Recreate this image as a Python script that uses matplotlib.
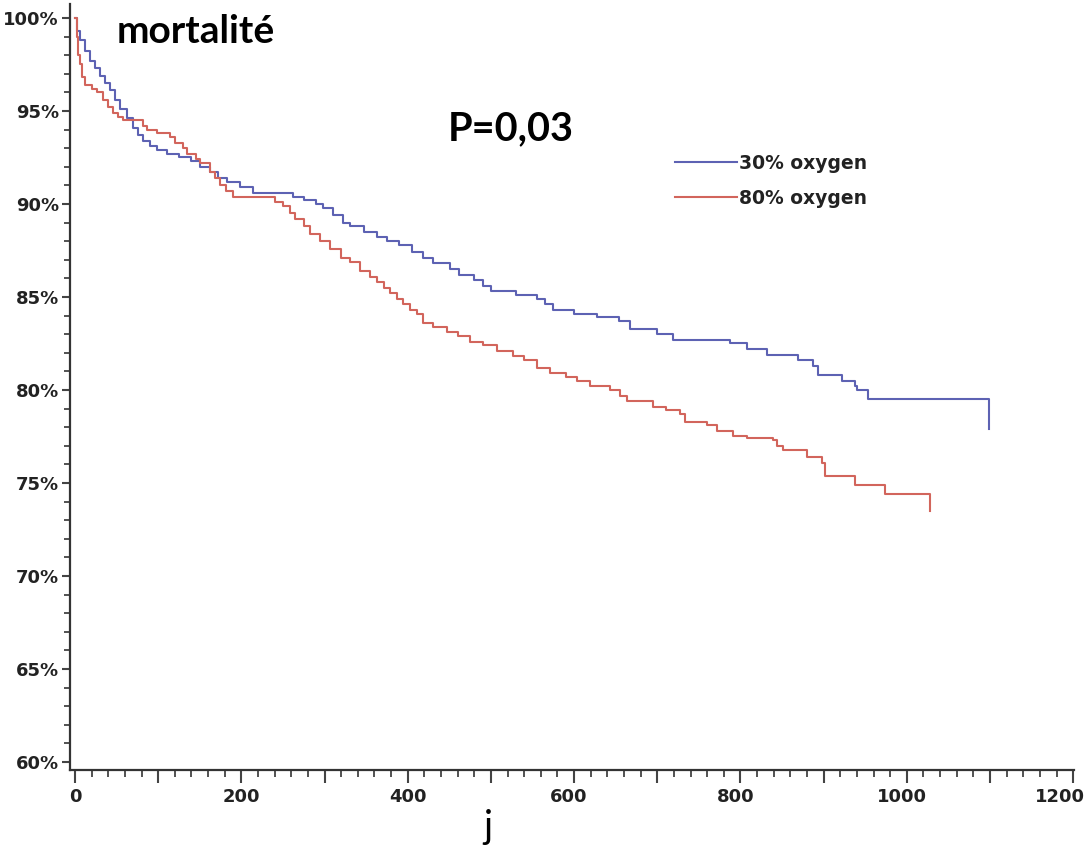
import matplotlib
matplotlib.use("Agg")
import matplotlib.pyplot as plt
from matplotlib.ticker import MultipleLocator, FuncFormatter
from matplotlib.transforms import ScaledTranslation

# ---- data (days, survival %) ----
days_30 = [0, 3, 6, 12, 18, 24, 30, 36, 42, 48, 54, 62, 70, 76, 82, 90, 99, 111, 125,
           140, 150, 162, 172, 183, 198, 214, 262, 275, 290, 298, 310, 322, 331, 348,
           363, 375, 390, 405, 418, 430, 451, 462, 480, 490, 500, 530, 555, 565, 575,
           600, 628, 654, 667, 700, 719, 788, 808, 832, 869, 887, 893, 922, 938, 940,
           953, 1099]
surv_30 = [100, 99.3, 98.8, 98.2, 97.7, 97.3, 96.9, 96.5, 96.1, 95.6, 95.1, 94.6, 94.1,
           93.7, 93.4, 93.1, 92.9, 92.7, 92.5, 92.3, 92.0, 91.7, 91.4, 91.2, 90.9, 90.6,
           90.4, 90.2, 90.0, 89.8, 89.4, 89.0, 88.8, 88.5, 88.2, 88.0, 87.8, 87.4, 87.1,
           86.8, 86.5, 86.2, 85.9, 85.6, 85.3, 85.1, 84.9, 84.6, 84.3, 84.1, 83.9, 83.7,
           83.3, 83.0, 82.7, 82.5, 82.2, 81.9, 81.6, 81.3, 80.8, 80.5, 80.2, 80.0, 79.5,
           77.9]

days_80 = [0, 2, 4, 6, 9, 12, 20, 26, 34, 40, 46, 52, 58, 82, 87, 99, 114, 120, 130, 135,
           145, 150, 162, 168, 174, 182, 190, 240, 250, 258, 265, 275, 283, 295, 307, 320,
           331, 343, 355, 363, 372, 379, 387, 394, 403, 411, 418, 430, 447, 460, 475, 490,
           507, 527, 540, 555, 571, 590, 604, 619, 643, 655, 664, 695, 710, 727, 733, 760,
           772, 791, 808, 839, 844, 851, 880, 898, 902, 938, 974, 1028]
surv_80 = [100, 99.0, 98.0, 97.5, 96.8, 96.4, 96.2, 96.0, 95.6, 95.2, 94.9, 94.7, 94.5,
           94.2, 94.0, 93.8, 93.6, 93.3, 93.0, 92.7, 92.4, 92.2, 91.7, 91.4, 91.0, 90.7,
           90.4, 90.1, 89.9, 89.5, 89.2, 88.8, 88.4, 88.0, 87.6, 87.1, 86.9, 86.4, 86.1,
           85.8, 85.5, 85.2, 84.9, 84.6, 84.3, 84.1, 83.6, 83.4, 83.1, 82.9, 82.6, 82.4,
           82.1, 81.8, 81.6, 81.2, 80.9, 80.7, 80.5, 80.2, 80.0, 79.7, 79.4, 79.1, 78.9,
           78.7, 78.3, 78.1, 77.8, 77.5, 77.4, 77.3, 77.0, 76.8, 76.4, 76.1, 75.4, 74.9,
           74.4, 73.5]

labels = ["30% oxygen", "80% oxygen"]
colors = ["#5d62b3", "#d2655c"]
x_ticks_labelled = [0, 200, 400, 600, 800, 1000, 1200]

W, H = 1086, 850
fig = plt.figure(figsize=(W / 100, H / 100), dpi=100)
ax = fig.add_axes([70 / W, 1 - 770 / H, (1074 - 70) / W, (770 - 4) / H])

ax.plot(days_30, surv_30, drawstyle="steps-post", color=colors[0], lw=1.5, label=labels[0])
ax.plot(days_80, surv_80, drawstyle="steps-post", color=colors[1], lw=1.5, label=labels[1])

ax.set_xlim(-6, 1201)
ax.set_ylim(59.57, 100.75)

for s in ["top", "right"]:
    ax.spines[s].set_visible(False)
for s in ["left", "bottom"]:
    ax.spines[s].set_color("#333333")
    ax.spines[s].set_linewidth(1.6)

ax.xaxis.set_major_locator(MultipleLocator(100))
ax.xaxis.set_minor_locator(MultipleLocator(20))
ax.xaxis.set_major_formatter(FuncFormatter(
    lambda v, p: f"{int(round(v))}" if int(round(v)) in x_ticks_labelled else ""))
ax.yaxis.set_major_locator(MultipleLocator(5))
ax.yaxis.set_minor_locator(MultipleLocator(1))
ax.yaxis.set_major_formatter(FuncFormatter(lambda v, p: f"{int(round(v))}%"))

ax.tick_params(axis="x", which="major", length=9, width=1.5, color="#444444", pad=4)
ax.tick_params(axis="x", which="minor", length=5, width=1.3, color="#444444")
ax.tick_params(axis="y", which="major", length=6, width=1.5, color="#444444", pad=2)
ax.tick_params(axis="y", which="minor", length=4, width=1.3, color="#444444")

fig.canvas.draw()
for lab in ax.get_xticklabels() + ax.get_yticklabels():
    lab.set_fontfamily("DejaVu Sans")
    lab.set_fontweight("bold")
    lab.set_fontsize(13)
    lab.set_color("#222222")
for tick in ax.xaxis.get_major_ticks():
    v = int(round(tick.get_loc()))
    if v <= 400:
        dx = 0
    elif v < 1200:
        dx = -5
    else:
        dx = -13
    lab = tick.label1
    lab.set_transform(lab.get_transform() + ScaledTranslation(dx / 100, 0, fig.dpi_scale_trans))

leg = ax.legend(loc="upper left", bbox_to_anchor=(675 / W, 1 - 154 / H),
                bbox_transform=fig.transFigure, frameon=False, borderpad=0,
                borderaxespad=0, handlelength=3.3, handletextpad=0.1,
                labelspacing=0.85, prop={"family": "DejaVu Sans", "weight": "bold", "size": 13.5})
for t in leg.get_texts():
    t.set_color("#222222")

fig.text(117 / W, 1 - 43 / H, "mortalité", fontfamily="Lato", fontweight="bold",
         fontsize=28, color="black", ha="left", va="baseline")
fig.text(448 / W, 1 - 140 / H, "P=0,03", fontfamily="Lato", fontweight="bold",
         fontsize=28.5, color="black", ha="left", va="baseline")
fig.text(488 / W, 1 - 838 / H, "j", fontfamily="Lato", fontsize=27, color="black",
         ha="center", va="baseline")

fig.savefig("out.png", dpi=100, facecolor="white")
